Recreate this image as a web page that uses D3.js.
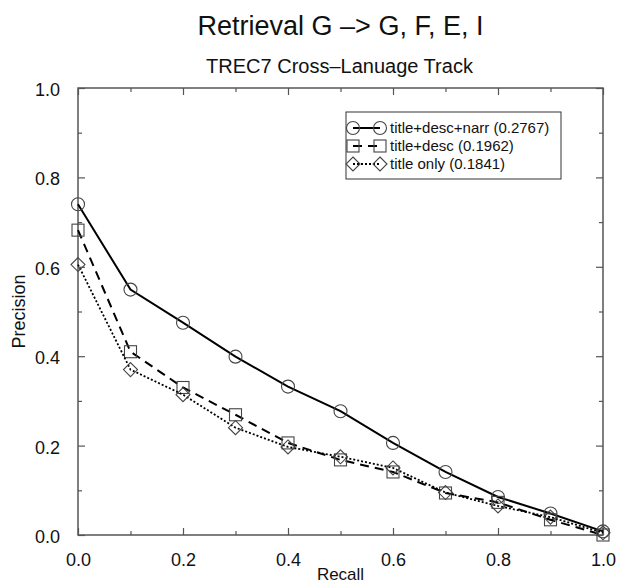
<!DOCTYPE html>
<meta charset="utf-8">
<style>
  body { margin: 0; background: #fff; }
  svg text { font-family: "Liberation Sans", Arial, sans-serif; fill: #111; }
  .axis path { display: none; }
  .axis line { stroke: #555; stroke-width: 1.2; }
</style>
<body>
<svg class="chart" width="618" height="584"></svg>
<script src="https://cdn.jsdelivr.net/npm/d3@7"></script>
<script>

// Values
var recall = [0, 0.1, 0.2, 0.3, 0.4, 0.5, 0.6, 0.7, 0.8, 0.9, 1.0];
var titleDescNarr = [0.740, 0.549, 0.475, 0.399, 0.332, 0.277, 0.206, 0.141, 0.085, 0.048, 0.008];
var titleDesc     = [0.682, 0.410, 0.330, 0.269, 0.206, 0.168, 0.141, 0.094, 0.073, 0.034, 0.000];
var titleOnly     = [0.605, 0.370, 0.314, 0.240, 0.197, 0.175, 0.150, 0.095, 0.065, 0.040, 0.005];
var seriesNames = ["title+desc+narr (0.2767)", "title+desc (0.1962)", "title only (0.1841)"];
var majorTicks = [0, 0.2, 0.4, 0.6, 0.8, 1.0];
var minorTicks = [0.1, 0.3, 0.5, 0.7, 0.9];

var margin = { top: 88, right: 15, bottom: 49, left: 78 };
var width = 618 - margin.left - margin.right;
var height = 584 - margin.top - margin.bottom;

var svg = d3.select(".chart");
var chart = svg.append("g")
    .attr("transform", "translate(" + margin.left + "," + margin.top + ")");

var x = d3.scaleLinear().domain([0, 1]).range([0, width]);
var y = d3.scaleLinear().domain([0, 1]).range([height, 0]);
var fmt = d3.format(".1f");

// titles
svg.append("text")
    .attr("x", margin.left + width / 2).attr("y", 35)
    .attr("text-anchor", "middle")
    .style("font-size", "27px")
    .text("Retrieval G \u2013> G, F, E, I");
svg.append("text")
    .attr("x", margin.left + width / 2 - 1).attr("y", 73)
    .attr("text-anchor", "middle")
    .style("font-size", "20px")
    .text("TREC7 Cross\u2013Lanuage Track");

// ticks point inward on all four sides
function addAxis(axisFn, scale, ticks, size, labels, transform) {
  var ax = axisFn(scale).tickValues(ticks).tickSizeInner(-size).tickSizeOuter(0)
      .tickPadding(labels ? 11 + size : 0)
      .tickFormat(labels ? fmt : "");
  var g = chart.append("g").attr("class", "axis")
      .attr("transform", transform || null)
      .call(ax);
  g.selectAll("text").style("font-size", "18px").attr("fill", "#111");
  return g;
}
addAxis(d3.axisBottom, x, majorTicks, 7, true, "translate(0," + height + ")");
addAxis(d3.axisBottom, x, minorTicks, 4, false, "translate(0," + height + ")");
addAxis(d3.axisTop, x, majorTicks, 7, false);
addAxis(d3.axisTop, x, minorTicks, 4, false);
var yl = addAxis(d3.axisLeft, y, majorTicks, 7, true);
addAxis(d3.axisLeft, y, minorTicks, 4, false);
addAxis(d3.axisRight, y, majorTicks, 7, false, "translate(" + width + ",0)");
addAxis(d3.axisRight, y, minorTicks, 4, false, "translate(" + width + ",0)");
yl.selectAll("text").attr("dy", "0.42em");

// frame
chart.append("rect")
    .attr("width", width).attr("height", height)
    .attr("fill", "none").attr("stroke", "#555").attr("stroke-width", 1.5);

// axis labels
svg.append("text")
    .attr("x", margin.left + width / 2).attr("y", 580)
    .attr("text-anchor", "middle")
    .style("font-size", "17px")
    .text("Recall");
svg.append("text")
    .attr("transform", "translate(25," + (margin.top + height / 2) + ") rotate(-90)")
    .attr("text-anchor", "middle")
    .style("font-size", "18px")
    .text("Precision");

var series = [
  { name: seriesNames[0], values: titleDescNarr, dash: null, width: 2, marker: "circle" },
  { name: seriesNames[1], values: titleDesc, dash: "9,6", width: 2, marker: "square" },
  { name: seriesNames[2], values: titleOnly, dash: "2,2", width: 1.8, marker: "diamond" }
];

function drawMarker(g, type, cx, cy) {
  var m;
  if (type === "circle") {
    m = g.append("circle").attr("cx", cx).attr("cy", cy).attr("r", 6.5);
  } else if (type === "square") {
    m = g.append("rect").attr("x", cx - 6).attr("y", cy - 6).attr("width", 12).attr("height", 12);
  } else {
    m = g.append("path").attr("d", "M" + cx + "," + (cy - 7) + "L" + (cx + 7) + "," + cy +
        "L" + cx + "," + (cy + 7) + "L" + (cx - 7) + "," + cy + "Z");
  }
  m.attr("fill", "none").attr("stroke", "#444").attr("stroke-width", 1.1);
}

var line = d3.line()
    .x(function(d) { return x(d[0]); })
    .y(function(d) { return y(d[1]); });

series.forEach(function(s) {
  var pts = recall.map(function(r, i) { return [r, s.values[i]]; });
  chart.append("path")
      .datum(pts)
      .attr("d", line)
      .attr("fill", "none")
      .attr("stroke", "#000")
      .attr("stroke-width", s.width)
      .attr("stroke-dasharray", s.dash);
  var mg = chart.append("g");
  pts.forEach(function(p) { drawMarker(mg, s.marker, x(p[0]), y(p[1])); });
});

// legend
var legend = svg.append("g").attr("transform", "translate(346,112)");
legend.append("rect")
    .attr("width", 215).attr("height", 67)
    .attr("fill", "#fff").attr("stroke", "#333").attr("stroke-width", 1);
series.forEach(function(s, i) {
  var ly = 16 + i * 18;
  legend.append("line")
      .attr("x1", 7).attr("x2", 34).attr("y1", ly).attr("y2", ly)
      .attr("stroke", "#000").attr("stroke-width", s.width)
      .attr("stroke-dasharray", s.dash);
  drawMarker(legend, s.marker, 7, ly);
  drawMarker(legend, s.marker, 34, ly);
  legend.append("text")
      .attr("x", 44).attr("y", ly).attr("dy", "0.36em")
      .style("font-size", "15px")
      .text(s.name);
});

</script>
</body>
